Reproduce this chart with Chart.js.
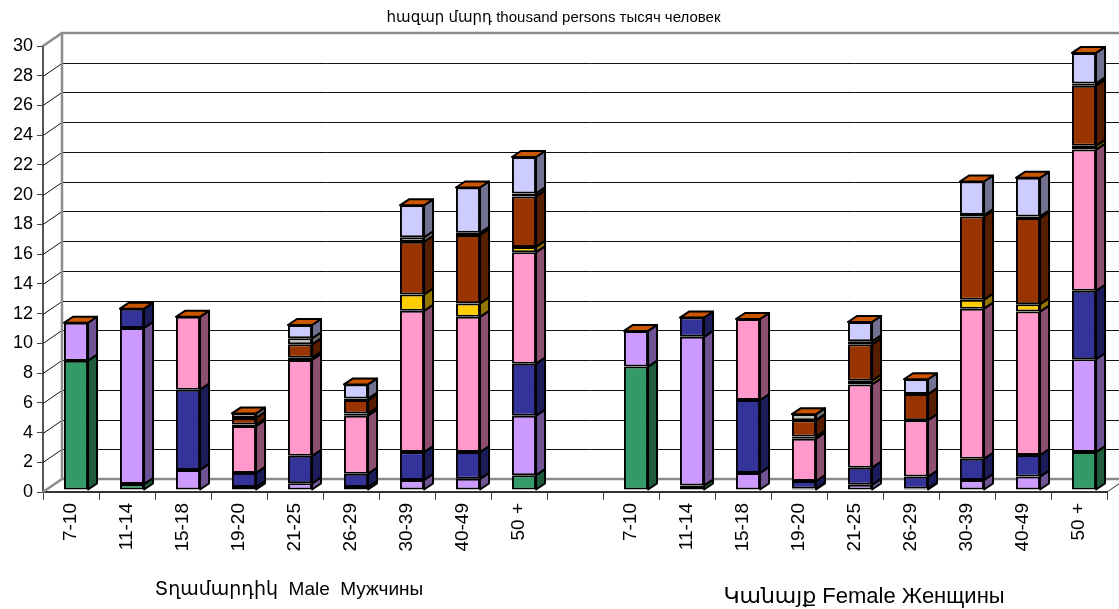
<!DOCTYPE html>
<html lang="hy">
<head>
<meta charset="UTF-8">
<title>Population by age</title>
<script src="https://cdn.jsdelivr.net/npm/chart.js"></script>
<style>
  html, body { margin: 0; padding: 0; background: #fff; }
  #wrap { width: 1119px; height: 609px; }
</style>
</head>
<body>
<div id="wrap"><canvas id="ageChart" width="1119" height="609"></canvas></div>
<script>
// categories: 9 male age groups, an empty slot, 9 female age groups
var ageLabels = ['7-10', '11-14', '15-18', '19-20', '21-25', '26-29', '30-39', '40-49', '50 +', '',
                 '7-10', '11-14', '15-18', '19-20', '21-25', '26-29', '30-39', '40-49', '50 +'];

// stacked series, bottom to top (thousand persons)
var seriesGreen    = [8.7, 0.4, 0,    0,    0,    0,    0,    0,    1.0,  null, 8.3, 0.3,  0,    0,    0,    0,    0,    0,    2.55];
var seriesLilac    = [2.55, 10.5, 1.35, 0.2, 0.45, 0.2,  0.67, 0.75, 4.0,  null, 2.4, 10.0, 1.15, 0.1,  0.35, 0.1,  0.67, 0.9,  6.25];
var seriesNavy     = [0,    1.3, 5.4,  0.95, 1.85, 0.9,  1.88, 1.8,  3.5,  null, 0,   1.3,  4.9,  0.5,  1.15, 0.8,  1.43, 1.45, 4.6];
var seriesPink     = [0,    0,   4.9,  3.15, 6.45, 3.9,  9.5,  9.1,  7.5,  null, 0,   0,    5.45, 2.85, 5.6,  3.8,  10.1, 9.65, 9.5];
var seriesYellow   = [0,    0,   0,    0.1,  0.15, 0.15, 1.1,  0.9,  0.35, null, 0,   0,    0,    0.15, 0.25, 0,    0.6,  0.5,  0.25];
var seriesBrown    = [0,    0,   0,    0.45, 0.9,  0.9,  3.55, 4.6,  3.4,  null, 0,   0,    0,    1.1,  2.45, 1.75, 5.6,  5.8,  4.05];
var seriesGray     = [0,    0,   0,    0.3,  0.4,  0.1,  0.3,  0.15, 0.2,  null, 0,   0,    0,    0.4,  0.2,  0,    0.1,  0.1,  0.15];
var seriesLavender = [0,    0,   0,    0,    0.9,  0.95, 2.15, 3.05, 2.45, null, 0,   0,    0,    0,    1.3,  1.0,  2.25, 2.6,  2.05];

var allSeries = [seriesGreen, seriesLilac, seriesNavy, seriesPink, seriesYellow, seriesBrown, seriesGray, seriesLavender];
var frontColors = ['#339966', '#CC99FF', '#333399', '#FF99CC', '#FFCC00', '#993300', '#C0C0C0', '#CCCCFF'];
var sideColors  = ['#1F5C3D', '#6E5494', '#1C1C5A', '#8E5070', '#927400', '#561D00', '#6E6E6E', '#727290'];
var capColor = '#CC5500';

var FONT = "Arial, 'Liberation Sans', 'DejaVu Sans', sans-serif";
var DX = 19, DY = -13;     // depth of the walls
var BX = 9, BY = -6;       // depth of one bar
var SX = 5, SY = -2;       // bars stand a little behind the front plane

var datasets = allSeries.map(function(s, i) {
    return {
        label: 'Series ' + (i + 1),
        data: s,
        backgroundColor: frontColors[i],
        borderColor: '#000',
        borderWidth: 2,
        borderSkipped: false,
        stack: 'all'
    };
});

// walls, gridlines on the back wall, and the 3D faces of the bars
var walls3d = {
    id: 'walls3d',
    beforeDatasetsDraw: function(chart) {
        var ctx = chart.ctx, ys = chart.scales.y, a = chart.chartArea;
        var W = chart.width;
        var L = a.left, bx = L + DX;
        ctx.save();
        ctx.lineWidth = 1;
        ctx.strokeStyle = '#111';
        ys.ticks.forEach(function(t) {
            if (t.value === 0 || t.value === 30) return;
            var py = Math.round(ys.getPixelForValue(t.value)) + 0.5;
            ctx.beginPath();
            ctx.moveTo(L, py);
            ctx.lineTo(bx, py + DY);
            ctx.lineTo(W, py + DY);
            ctx.stroke();
        });
        ctx.strokeStyle = '#8C8C8C';
        ctx.lineWidth = 2.5;
        var top = ys.getPixelForValue(30), bot = ys.getPixelForValue(0);
        ctx.beginPath();
        ctx.moveTo(L, top); ctx.lineTo(bx, top + DY); ctx.lineTo(W + 5, top + DY);
        ctx.moveTo(bx, top + DY); ctx.lineTo(bx, bot + DY);
        ctx.moveTo(L, bot); ctx.lineTo(bx, bot + DY); ctx.lineTo(W + 5, bot + DY);
        ctx.stroke();
        ctx.strokeStyle = '#333';
        ctx.lineWidth = 1;
        ctx.beginPath();
        ctx.moveTo(a.right, bot); ctx.lineTo(a.right + DX, bot + DY);
        ctx.stroke();
        ctx.restore();

        ctx.save();
        ctx.translate(SX, SY);
    },
    afterDatasetsDraw: function(chart) {
        var ctx = chart.ctx;
        var tops = [];
        ctx.lineWidth = 2;
        ctx.lineJoin = 'round';
        ctx.strokeStyle = '#000';
        chart.data.datasets.forEach(function(ds, di) {
            var meta = chart.getDatasetMeta(di);
            meta.data.forEach(function(bar, i) {
                if (!ds.data[i]) return;
                var p = bar.getProps(['x', 'y', 'base', 'width'], true);
                var r = p.x + p.width / 2;
                var t = Math.min(p.y, p.base), b = Math.max(p.y, p.base);
                ctx.beginPath();
                ctx.moveTo(r, b); ctx.lineTo(r, t);
                ctx.lineTo(r + BX, t + BY); ctx.lineTo(r + BX, b + BY);
                ctx.closePath();
                ctx.fillStyle = sideColors[di];
                ctx.fill();
                ctx.stroke();
                if (!tops[i] || t < tops[i].t) tops[i] = { t: t, x: p.x, w: p.width };
            });
        });
        tops.forEach(function(c) {
            if (!c) return;
            var l = c.x - c.w / 2, r = c.x + c.w / 2;
            ctx.beginPath();
            ctx.moveTo(l, c.t); ctx.lineTo(l + BX, c.t + BY);
            ctx.lineTo(r + BX, c.t + BY); ctx.lineTo(r, c.t);
            ctx.closePath();
            ctx.fillStyle = capColor;
            ctx.fill();
            ctx.stroke();
        });
        ctx.restore();
    },
    afterDraw: function(chart) {
        var ctx = chart.ctx;
        ctx.save();
        ctx.fillStyle = '#000';
        ctx.textAlign = 'center';
        ctx.textBaseline = 'middle';
        ctx.font = '19px ' + FONT;
        ctx.fillText('Տղամարդիկ  Male  Мужчины', 289, 590);
        ctx.font = '22px ' + FONT;
        ctx.fillText('Կանայք Female Женщины', 864, 597);
        ctx.restore();
    }
};

new Chart(document.getElementById('ageChart').getContext('2d'), {
    type: 'bar',
    data: { labels: ageLabels, datasets: datasets },
    plugins: [walls3d],
    options: {
        responsive: false,
        animation: false,
        layout: { padding: { left: 0, right: 12, top: 0, bottom: 0 } },
        datasets: { bar: { categoryPercentage: 1, barPercentage: 0.43 } },
        plugins: {
            legend: { display: false },
            tooltip: { enabled: false },
            title: {
                display: true,
                text: 'հազար մարդ thousand persons тысяч человек',
                color: '#000',
                font: { family: FONT, size: 15, weight: 'normal' },
                padding: { top: 9, bottom: 19 }
            }
        },
        scales: {
            x: {
                stacked: true,
                grid: { drawOnChartArea: false, tickLength: 8, color: '#444' },
                border: { color: '#333', width: 2 },
                ticks: {
                    minRotation: 90, maxRotation: 90, autoSkip: false, padding: 3,
                    color: '#000', font: { family: FONT, size: 19 }
                },
                afterFit: function(s) { s.height = 117; }
            },
            y: {
                stacked: true,
                min: 0, max: 30,
                grid: { drawOnChartArea: false, tickLength: 6, color: '#444' },
                border: { color: '#555', width: 2 },
                ticks: { stepSize: 2, padding: 4, color: '#000', font: { family: FONT, size: 18 } },
                afterFit: function(s) { s.width = 43; }
            }
        }
    }
});
</script>
</body>
</html>
